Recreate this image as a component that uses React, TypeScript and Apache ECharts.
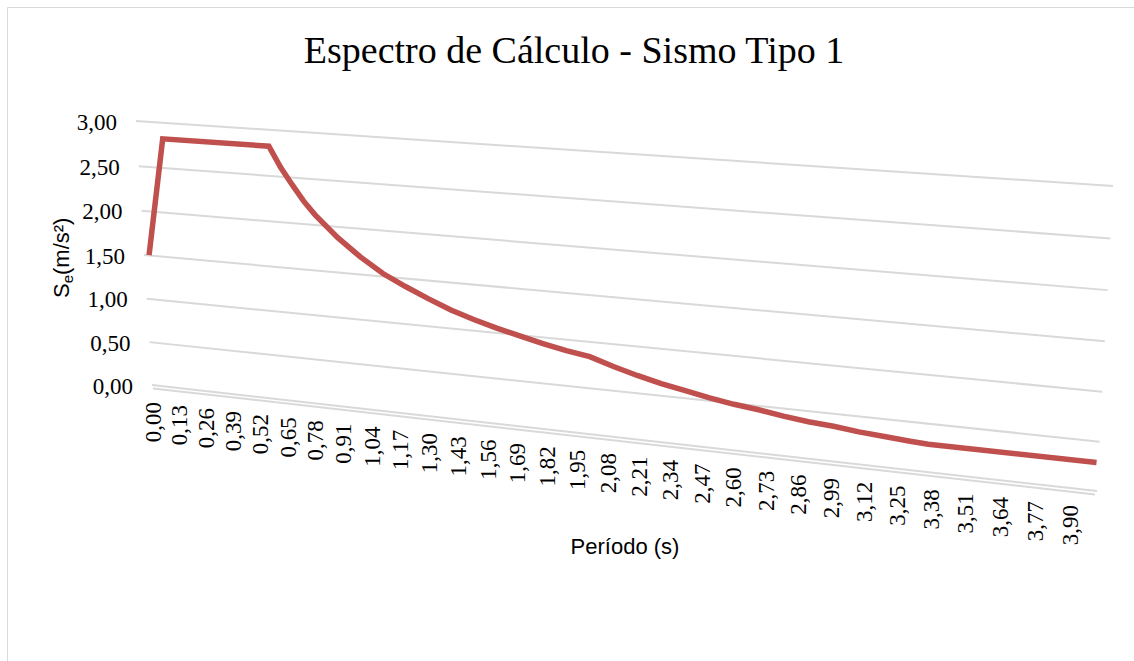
import React, { useEffect, useRef } from "react";
import * as echarts from "echarts";

// ---- data ----
const periodTicks = [
  0.0, 0.13, 0.26, 0.39, 0.52, 0.65, 0.78, 0.91, 1.04, 1.17, 1.3, 1.43, 1.56, 1.69, 1.82, 1.95,
  2.08, 2.21, 2.34, 2.47, 2.6, 2.73, 2.86, 2.99, 3.12, 3.25, 3.38, 3.51, 3.64, 3.77, 3.9,
];
const accelTicks = [0, 0.5, 1, 1.5, 2, 2.5, 3];

const periods = [
  0.0, 0.1, 0.6, 0.65, 0.7, 0.75, 0.8, 0.9, 1.0, 1.1, 1.2, 1.3, 1.4, 1.5, 1.6, 1.7, 1.8, 1.9, 2.0,
  2.1, 2.2, 2.3, 2.4, 2.5, 2.6, 2.7, 2.8, 2.9, 3.0, 3.1, 3.2, 3.3, 3.37, 4.0,
];
const spectrum = [
  1.51, 2.83, 2.83, 2.61, 2.43, 2.26, 2.12, 1.89, 1.7, 1.54, 1.42, 1.31, 1.21, 1.13, 1.06, 1.0, 0.94,
  0.89, 0.85, 0.77, 0.7, 0.64, 0.59, 0.54, 0.5, 0.47, 0.43, 0.4, 0.38, 0.35, 0.33, 0.31, 0.3, 0.3,
];

const TITLE = "Espectro de Cálculo - Sismo Tipo 1";
const X_TITLE = "Período (s)";
const X_MIN = 0;
const X_MAX = 4;
const Y_MIN = 0;
const Y_MAX = 3;

type Pt = [number, number];

// projective mapping of the unit square onto the perspective wall
function makeHomography(p00: Pt, p10: Pt, p11: Pt, p01: Pt) {
  const [x0, y0] = p00;
  const [x1, y1] = p10;
  const [x2, y2] = p11;
  const [x3, y3] = p01;
  const sx = x0 - x1 + x2 - x3;
  const sy = y0 - y1 + y2 - y3;
  const dx1 = x1 - x2;
  const dx2 = x3 - x2;
  const dy1 = y1 - y2;
  const dy2 = y3 - y2;
  const det = dx1 * dy2 - dx2 * dy1;
  const g = (sx * dy2 - dx2 * sy) / det;
  const h = (dx1 * sy - sx * dy1) / det;
  const a = x1 - x0 + g * x1;
  const b = x3 - x0 + h * x3;
  const c = x0;
  const d = y1 - y0 + g * y1;
  const e = y3 - y0 + h * y3;
  const f = y0;
  return (u: number, v: number): Pt => {
    const w = g * u + h * v + 1;
    return [(a * u + b * v + c) / w, (d * u + e * v + f) / w];
  };
}

const WALL = makeHomography([152, 385], [1097, 491], [1113, 186], [136, 121]);
const RIBBON = makeHomography([157, 386], [1095, 492], [1111, 187], [141, 122]);

const fmt = (n: number) => n.toFixed(2).replace(".", ",");

const SERIF = '"Liberation Serif", "Times New Roman", serif';
const SANS = '"Liberation Sans", Arial, sans-serif';

function norm(params: any, api: any, t: number, s: number): Pt {
  const cs = params.coordSys;
  const p = api.coord([t, s]);
  return [(p[0] - cs.x) / cs.width, (cs.y + cs.height - p[1]) / cs.height];
}

function textWidth(text: string, font: string) {
  const ctx = document.createElement("canvas").getContext("2d");
  if (!ctx) return text.length * 10;
  ctx.font = font;
  return ctx.measureText(text).width;
}

export default function App() {
  const ref = useRef<HTMLDivElement>(null);

  useEffect(() => {
    document.body.style.margin = "0";
    if (!ref.current) return;
    const chart = echarts.init(ref.current, null, { renderer: "svg" });

    const yFont = 22;
    const subFont = 15;
    const wS = textWidth("S", `${yFont}px ${SANS}`);
    const wE = textWidth("e", `${subFont}px ${SANS}`);
    const yTitleX = 61;
    const yTitleY = 298;

    chart.setOption({
      animation: false,
      backgroundColor: "#ffffff",
      grid: { left: 152, top: 121, width: 945, height: 264 },
      xAxis: { type: "value", min: X_MIN, max: X_MAX, show: false },
      yAxis: { type: "value", min: Y_MIN, max: Y_MAX, interval: 0.5, show: false },
      graphic: [
        {
          type: "rect",
          shape: { x: 7.5, y: 7.5, width: 1200, height: 700 },
          style: { fill: "none", stroke: "#d9d9d9", lineWidth: 1 },
          silent: true,
        },
        {
          type: "text",
          x: 574,
          y: 50,
          style: {
            text: TITLE,
            fill: "#000000",
            fontSize: 38,
            fontFamily: SERIF,
            align: "center",
            verticalAlign: "middle",
          },
        },
        {
          type: "text",
          x: 625,
          y: 546,
          style: {
            text: X_TITLE,
            fill: "#000000",
            fontSize: 22,
            fontFamily: SANS,
            align: "center",
            verticalAlign: "middle",
          },
        },
        {
          type: "group",
          x: yTitleX,
          y: yTitleY,
          rotation: Math.PI / 2,
          children: [
            {
              type: "text",
              x: 0,
              y: 0,
              style: { text: "S", fill: "#000", fontSize: yFont, fontFamily: SANS, align: "left", verticalAlign: "middle" },
            },
            {
              type: "text",
              x: wS,
              y: 6,
              style: { text: "e", fill: "#000", fontSize: subFont, fontFamily: SANS, align: "left", verticalAlign: "middle" },
            },
            {
              type: "text",
              x: wS + wE,
              y: 0,
              style: { text: "(m/s²)", fill: "#000", fontSize: yFont, fontFamily: SANS, align: "left", verticalAlign: "middle" },
            },
          ],
        },
      ],
      series: [
        {
          type: "custom",
          name: "grid",
          coordinateSystem: "cartesian2d",
          silent: true,
          clip: false,
          z: 1,
          data: accelTicks.map((s) => [X_MIN, s]),
          renderItem: (params: any, api: any) => {
            const s = api.value(1);
            const [u0, v] = norm(params, api, X_MIN, s);
            const [u1] = norm(params, api, X_MAX, s);
            const a = WALL(u0, v);
            const b = WALL(u1, v);
            const children: any[] = [
              {
                type: "line",
                shape: { x1: a[0], y1: a[1], x2: b[0], y2: b[1] },
                style: { stroke: "#d9d9d9", lineWidth: 2 },
              },
            ];
            if (s === 0) {
              children.push({
                type: "line",
                shape: { x1: a[0] + 1, y1: a[1] + 3.5, x2: b[0] - 2, y2: b[1] + 3.5 },
                style: { stroke: "#d9d9d9", lineWidth: 2 },
              });
            }
            children.push({
              type: "text",
              x: a[0] - 19,
              y: a[1] + 1,
              style: {
                text: fmt(s),
                fill: "#000",
                fontSize: 23,
                fontFamily: SERIF,
                align: "right",
                verticalAlign: "middle",
              },
            });
            return { type: "group", children };
          },
        },
        {
          type: "custom",
          name: "periodLabels",
          coordinateSystem: "cartesian2d",
          silent: true,
          clip: false,
          z: 2,
          data: periodTicks.map((t) => [t, Y_MIN]),
          renderItem: (params: any, api: any) => {
            const t = api.value(0);
            const [u] = norm(params, api, t, Y_MIN);
            const p = WALL(u, 0);
            return {
              type: "text",
              x: p[0] + 1,
              y: p[1] + 17,
              rotation: Math.PI / 2,
              style: {
                text: fmt(t),
                fill: "#000",
                fontSize: 23,
                fontFamily: SERIF,
                align: "right",
                verticalAlign: "middle",
              },
            };
          },
        },
        {
          type: "custom",
          name: "Se",
          coordinateSystem: "cartesian2d",
          silent: true,
          clip: false,
          z: 3,
          data: periods.map((t, i) => [t, spectrum[i]]),
          renderItem: (params: any, api: any) => {
            if (params.dataIndex !== 0) return null;
            const points = periods.map((t, i) => {
              const [u, v] = norm(params, api, t, spectrum[i]);
              return RIBBON(u, v);
            });
            return {
              type: "polyline",
              shape: { points },
              style: { stroke: "#C0504D", lineWidth: 5.5, fill: null, lineJoin: "miter" },
            };
          },
        },
      ],
    });

    return () => chart.dispose();
  }, []);

  return <div ref={ref} style={{ width: 1134, height: 661 }} />;
}
